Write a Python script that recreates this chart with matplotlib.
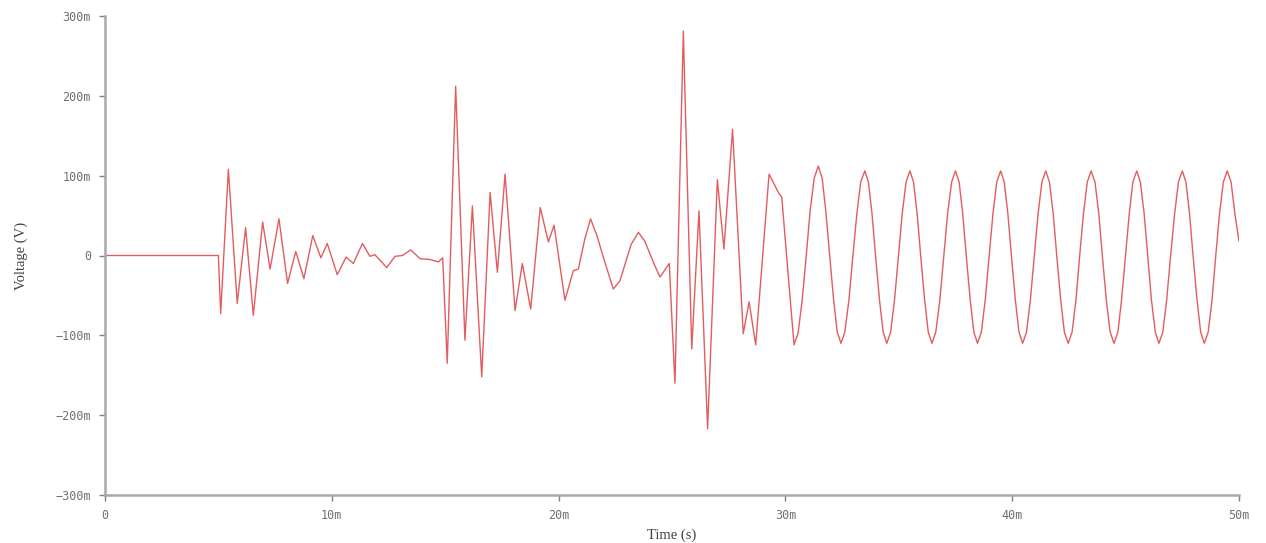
import numpy as np
import matplotlib
matplotlib.use("Agg")
import matplotlib.pyplot as plt

# waveform: time in ms, voltage in mV
t_ms = [
    0.0, 5.00, 5.10, 5.44, 5.83, 6.20, 6.54, 6.95, 7.28, 7.67, 8.05, 8.41, 8.77,
    9.16, 9.52, 9.80, 10.24, 10.63, 10.95, 11.35, 11.68, 11.90, 12.42, 12.79,
    13.12, 13.48, 13.89, 14.33, 14.70, 14.89,
    15.09, 15.46, 15.87, 16.20, 16.61, 16.98, 17.30, 17.64, 18.08, 18.40, 18.77,
    19.19, 19.55, 19.80, 20.28, 20.65, 20.87, 21.15, 21.41, 21.70, 21.97, 22.41,
    22.70, 23.20, 23.52, 23.80, 24.20, 24.47, 24.88,
    25.13, 25.50, 25.87, 26.19, 26.57, 27.00, 27.29, 27.67, 28.14, 28.40, 28.69,
    29.28, 29.69, 29.84,
    30.38, 30.56, 30.74, 30.92, 31.09, 31.27,
    31.45, 31.62, 31.78, 31.95, 32.12, 32.28,
    32.45, 32.62, 32.80, 32.97, 33.15, 33.32,
    33.50, 33.66, 33.82, 33.98, 34.15, 34.31,
    34.47, 34.64, 34.81, 34.98, 35.15, 35.32,
    35.49, 35.65, 35.81, 35.97, 36.14, 36.30,
    36.46, 36.63, 36.81, 36.98, 37.15, 37.33,
    37.50, 37.66, 37.82, 37.98, 38.15, 38.31,
    38.47, 38.64, 38.81, 38.98, 39.15, 39.32,
    39.49, 39.65, 39.81, 39.97, 40.14, 40.30,
    40.46, 40.63, 40.80, 40.97, 41.14, 41.31,
    41.48, 41.64, 41.81, 41.97, 42.14, 42.30,
    42.47, 42.64, 42.81, 42.97, 43.14, 43.31,
    43.48, 43.65, 43.82, 43.98, 44.15, 44.32,
    44.49, 44.66, 44.82, 44.99, 45.16, 45.32,
    45.49, 45.65, 45.82, 45.98, 46.14, 46.31,
    46.47, 46.64, 46.81, 46.98, 47.16, 47.33,
    47.50, 47.66, 47.82, 47.98, 48.15, 48.31,
    48.47, 48.64, 48.81, 48.97, 49.14, 49.31,
    49.48, 49.65, 49.82, 50.00,
]
v_mv = [
    0, 0, -73, 108, -60, 35, -75, 42, -17, 46, -35, 5, -29,
    25, -3, 15, -24, -2, -10, 15, -1, 1, -15, -1,
    0, 7, -4, -5, -8, -3,
    -135, 212, -106, 62, -152, 79, -21, 102, -69, -10, -67,
    60, 17, 38, -56, -19, -17, 20, 46, 24, -2, -42,
    -32, 14, 29, 18, -10, -27, -10,
    -160, 281, -117, 56, -217, 95, 8, 158, -98, -58, -112,
    102, 79, 73,
    -112, -97, -56, 0, 56, 97,
    112, 97, 56, 1, -54, -95,
    -110, -96, -56, -2, 52, 92,
    106, 92, 52, -2, -56, -96,
    -110, -96, -56, -2, 52, 92,
    106, 92, 52, -2, -56, -96,
    -110, -96, -56, -2, 52, 92,
    106, 92, 52, -2, -56, -96,
    -110, -96, -56, -2, 52, 92,
    106, 92, 52, -2, -56, -96,
    -110, -96, -56, -2, 52, 92,
    106, 92, 52, -2, -56, -96,
    -110, -96, -56, -2, 52, 92,
    106, 92, 52, -2, -56, -96,
    -110, -96, -56, -2, 52, 92,
    106, 92, 52, -2, -56, -96,
    -110, -96, -56, -2, 52, 92,
    106, 92, 52, -2, -56, -96,
    -110, -96, -56, -2, 52, 92,
    106, 92, 52, 18,
]

x_ticks = [0, 10, 20, 30, 40, 50]
x_tick_labels = ["0", "10m", "20m", "30m", "40m", "50m"]
y_ticks = [-300, -200, -100, 0, 100, 200, 300]
y_tick_labels = ["\u2212300m", "\u2212200m", "\u2212100m", "0", "100m", "200m", "300m"]

fig = plt.figure(figsize=(12.66, 5.43), dpi=100)
ax = fig.add_axes([105 / 1266, 48 / 543, 1134 / 1266, 479 / 543])

ax.plot(t_ms, v_mv, color="#e25c60", linewidth=1.0)

ax.set_xlim(0, 50)
ax.set_ylim(-300, 300)

for side in ["top", "right"]:
    ax.spines[side].set_visible(False)
for side in ["left", "bottom"]:
    ax.spines[side].set_color("#a8a8a8")
    ax.spines[side].set_linewidth(1.8)

ax.set_xticks(x_ticks)
ax.set_xticklabels(x_tick_labels)
ax.set_yticks(y_ticks)
ax.set_yticklabels(y_tick_labels)
ax.tick_params(colors="#808080", labelcolor="#707070", length=4, width=1,
               labelsize=8.5, pad=6)
for lab in ax.get_xticklabels() + ax.get_yticklabels():
    lab.set_family("DejaVu Sans Mono")

ax.set_xlabel("Time (s)", family="Liberation Serif", fontsize=10.5,
              color="#404040", labelpad=5)
ax.set_ylabel("Voltage (V)", family="Liberation Serif", fontsize=10.5,
              color="#404040", labelpad=20)

fig.savefig("out.png", dpi=100, facecolor="white")
